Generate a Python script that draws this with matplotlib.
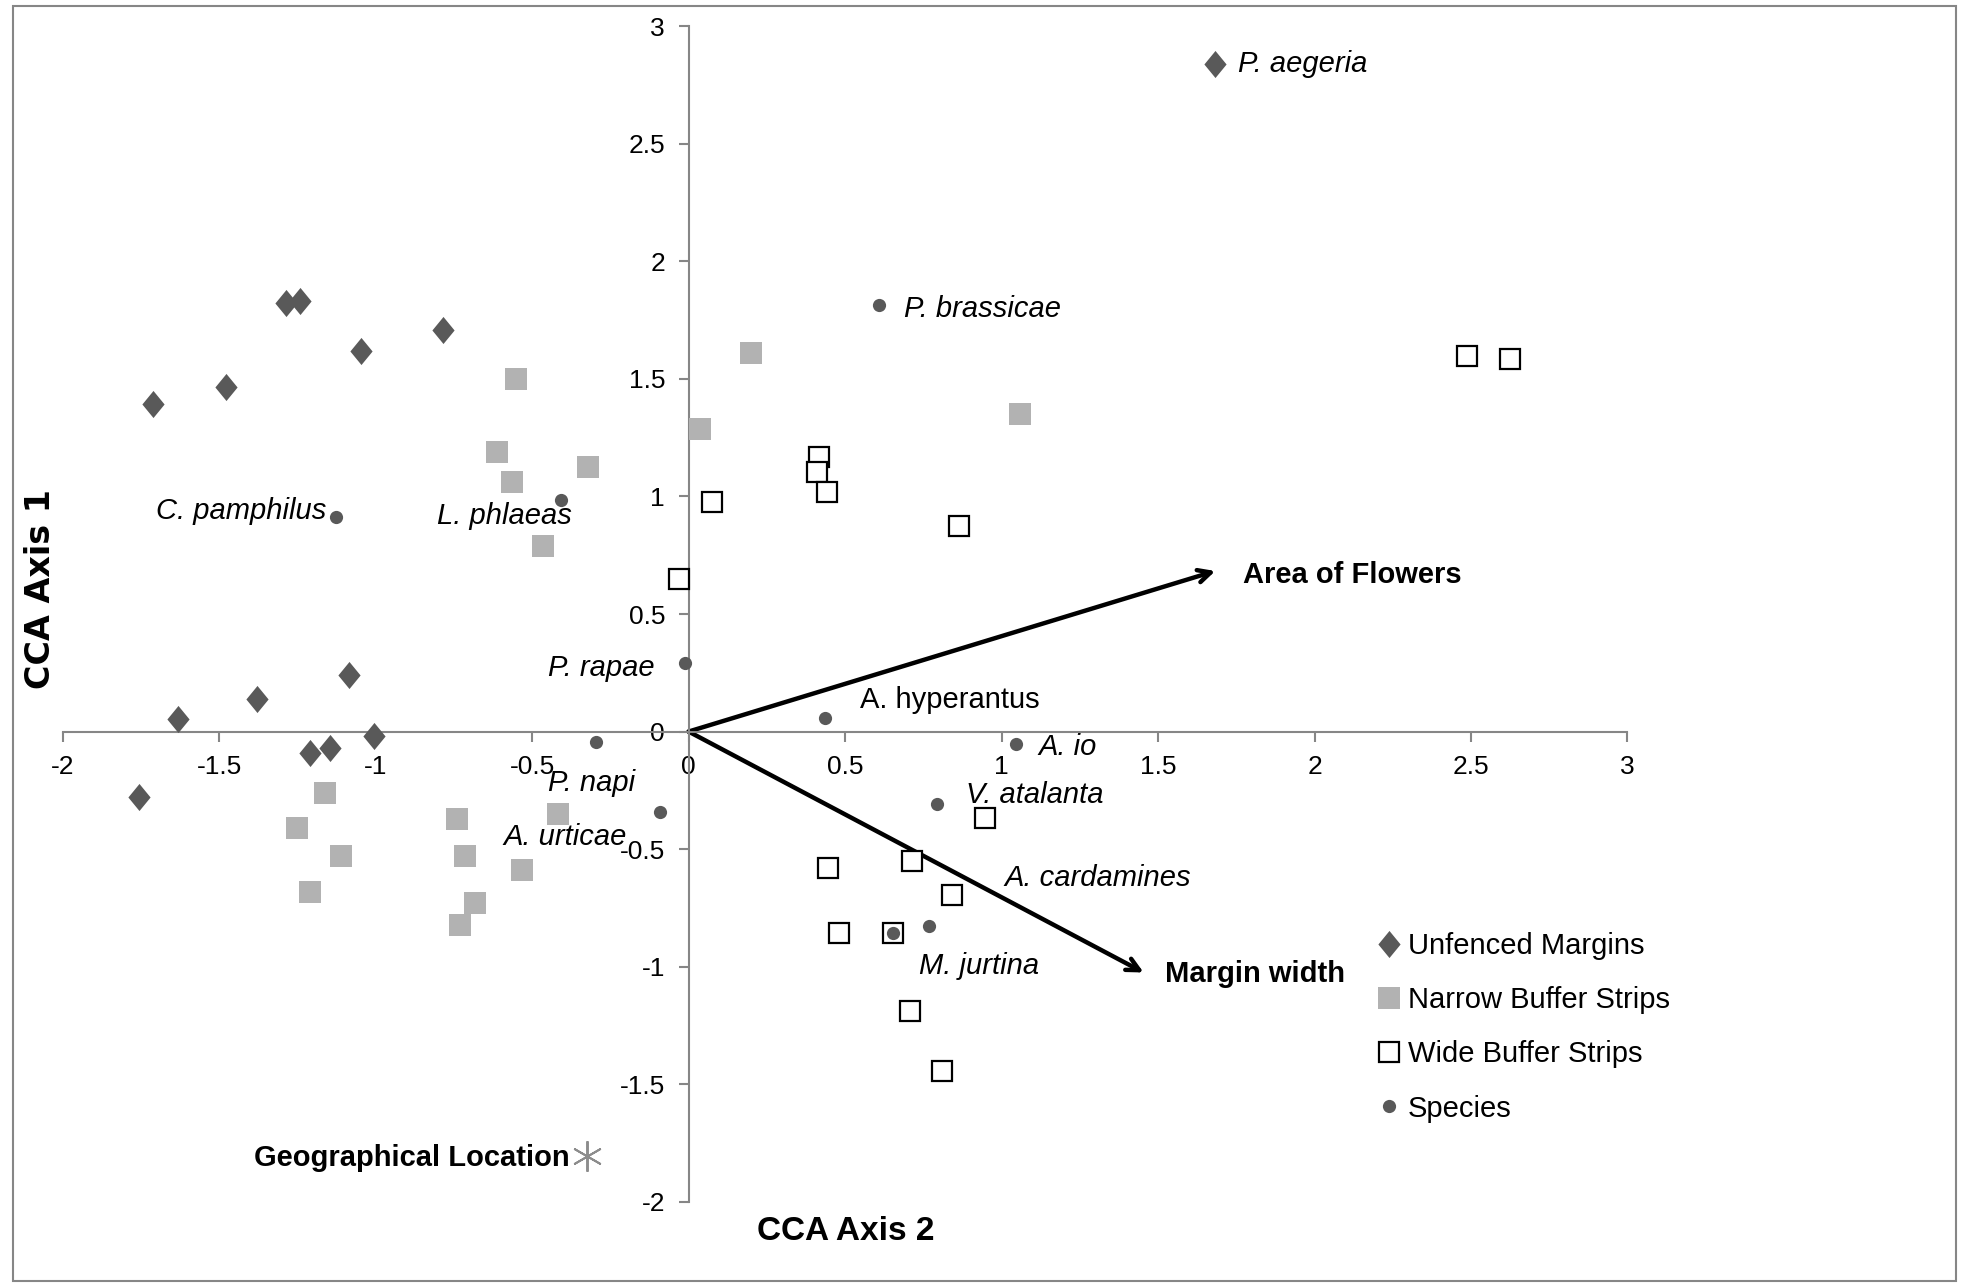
import matplotlib
matplotlib.use("Agg")
import matplotlib.pyplot as plt
from matplotlib.patches import Rectangle

plt.rcParams['font.family'] = ['Liberation Sans Narrow', 'Liberation Sans', 'DejaVu Sans']

# --- data (CCA Axis 2 on x, CCA Axis 1 on y) ---
unfenced_x = [-1.711, -1.478, -1.286, -1.242, -1.046, -0.785,
              -1.631, -1.378, -1.086, -1.006, -1.210, -1.146, -1.755]
unfenced_y = [1.393, 1.467, 1.825, 1.830, 1.617, 1.708,
              0.053, 0.139, 0.240, -0.021, -0.091, -0.069, -0.277]

narrow_x = [-0.553, -0.613, -0.565, -0.321, -0.465, 0.036, 0.200, 1.058,
            -1.162, -1.250, -1.110, -1.210, -0.741, -0.713, -0.681, -0.729,
            -0.533, -0.417]
narrow_y = [1.499, 1.190, 1.062, 1.126, 0.790, 1.286, 1.611, 1.350,
            -0.261, -0.411, -0.528, -0.683, -0.374, -0.528, -0.731, -0.822,
            -0.587, -0.352]

wide_x = [2.488, 2.624, 0.417, 0.409, 0.441, 0.076, 0.865, -0.032,
          0.946, 0.445, 0.713, 0.841, 0.481, 0.653, 0.709, 0.809]
wide_y = [1.596, 1.585, 1.169, 1.105, 1.019, 0.977, 0.875, 0.651,
          -0.368, -0.582, -0.550, -0.694, -0.859, -0.859, -1.190, -1.446]

species_names = ['P. brassicae', 'C. pamphilus', 'L. phlaeas', 'P. rapae',
                 'A. hyperantus', 'A. io', 'P. napi', 'A. urticae',
                 'V. atalanta', 'A. cardamines', 'M. jurtina']
species_x = [0.609, -1.126, -0.409, -0.012, 0.437, 1.046, -0.296, -0.092,
             0.793, 0.769, 0.653]
species_y = [1.814, 0.912, 0.987, 0.293, 0.059, -0.053, -0.043, -0.342,
             -0.309, -0.827, -0.859]

# P. aegeria is drawn with a diamond in the original
aegeria_x, aegeria_y = 1.683, 2.839

env_names = ['Area of Flowers', 'Margin width']
env_x = [1.683, 1.454]
env_y = [0.683, -1.025]

geo_x, geo_y = -0.325, -1.804

ticks = [-2, -1.5, -1, -0.5, 0, 0.5, 1, 1.5, 2, 2.5, 3]
tick_labels = ['-2', '-1.5', '-1', '-0.5', '0', '0.5', '1', '1.5', '2', '2.5', '3']

# label anchor points (data units) and alignment
label_pos = {
    'P. brassicae': (0.689, 1.798, 'left'),
    'C. pamphilus': (-1.158, 0.939, 'right'),
    'L. phlaeas': (-0.805, 0.918, 'left'),
    'P. rapae': (-0.108, 0.272, 'right'),
    'A. hyperantus': (0.549, 0.133, 'left'),
    'A. io': (1.118, -0.064, 'left'),
    'P. napi': (-0.449, -0.219, 'left'),
    'A. urticae': (-0.593, -0.448, 'left'),
    'V. atalanta': (0.885, -0.272, 'left'),
    'A. cardamines': (1.010, -0.624, 'left'),
    'M. jurtina': (0.737, -0.998, 'left'),
}

dark = '#595959'
light = '#b2b2b2'
axis_grey = '#868686'
diamond = [(0, 1), (0.82, 0), (0, -1), (-0.82, 0), (0, 1)]

fig = plt.figure(figsize=(19.66, 12.87), dpi=100)
ax = fig.add_axes([0.0319, 0.0663, 0.7959, 0.9132])

ax.plot(unfenced_x, unfenced_y, marker=diamond, ls='none', color=dark,
        ms=19.5, mew=0, label='Unfenced Margins', zorder=3)
ax.plot(narrow_x, narrow_y, 's', color=light, ms=16, mew=0,
        label='Narrow Buffer Strips', zorder=3)
ax.plot(wide_x, wide_y, 's', mfc='white', mec='black', ms=14, mew=1.6,
        label='Wide Buffer Strips', zorder=3)
ax.plot(species_x, species_y, 'o', color=dark, ms=9.5, mew=0,
        label='Species', zorder=4)
ax.plot([aegeria_x], [aegeria_y], marker=diamond, ls='none', color=dark,
        ms=19.5, mew=0, zorder=3)
ax.text(aegeria_x + 0.072, aegeria_y, 'P. aegeria', fontsize=21,
        style='italic', va='center', ha='left')

for name in species_names:
    lx, ly, ha = label_pos[name]
    st = 'normal' if name == 'A. hyperantus' else 'italic'
    ax.text(lx, ly, name, fontsize=21, style=st, ha=ha, va='center')

# environmental arrows
for name, ex, ey in zip(env_names, env_x, env_y):
    ax.annotate('', xy=(ex, ey), xytext=(0, 0),
                arrowprops=dict(arrowstyle='->,head_length=0.9,head_width=0.45',
                                color='black', lw=3.2, shrinkA=0, shrinkB=0),
                zorder=2)
ax.text(1.771, 0.667, env_names[0], fontsize=21, fontweight='bold',
        ha='left', va='center')
ax.text(1.522, -1.030, env_names[1], fontsize=21, fontweight='bold',
        ha='left', va='center')

ax.plot([geo_x], [geo_y], marker=(6, 2, 0), color='#8c8c8c', ms=22,
        mew=1.4, linestyle='none', zorder=3)
ax.text(-0.381, -1.814, 'Geographical Location', fontsize=21,
        fontweight='bold', ha='right', va='center')

# Excel-style crossing axes
ax.set_xlim(-2, 3)
ax.set_ylim(-2, 3)
ax.spines['left'].set_position(('data', 0))
ax.spines['bottom'].set_position(('data', 0))
ax.spines['top'].set_visible(False)
ax.spines['right'].set_visible(False)
for s in ('left', 'bottom'):
    ax.spines[s].set_color(axis_grey)
    ax.spines[s].set_linewidth(1.5)
ax.set_xticks(ticks)
ax.set_yticks(ticks)
ax.set_xticklabels(tick_labels)
ax.set_yticklabels(tick_labels)
ax.tick_params(direction='out', length=7, width=1.5, color=axis_grey,
               labelsize=19, labelcolor='black', pad=10)
ax.patch.set_visible(False)

fig.text(0.0205, 0.542, 'CCA Axis 1', rotation=90, fontsize=24,
         fontweight='bold', ha='center', va='center', family='DejaVu Sans')
fig.text(0.430, 0.043, 'CCA Axis 2', fontsize=24, fontweight='bold',
         ha='center', va='center')

fig.legend(loc='upper left', bbox_to_anchor=(0.702, 0.276), frameon=False,
           fontsize=21, handlelength=0.6, handletextpad=0.35,
           labelspacing=0.9, borderpad=0, borderaxespad=0)

fig.patches.append(Rectangle((0.0064, 0.0045), 0.9885, 0.9905,
                             transform=fig.transFigure, fill=False,
                             edgecolor=axis_grey, lw=1.5))

fig.savefig('out.png', dpi=100)
